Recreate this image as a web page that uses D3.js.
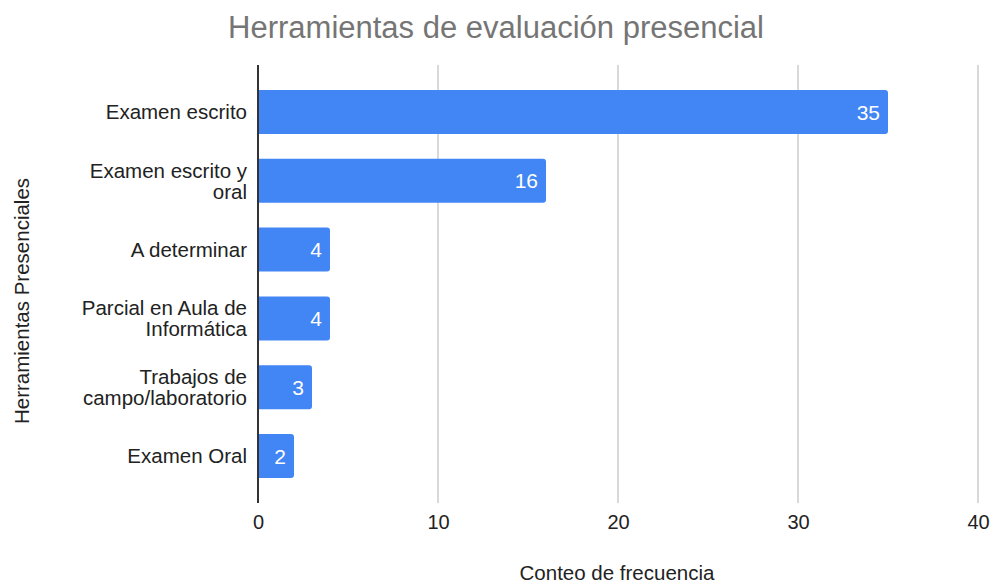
<!DOCTYPE html>
<html>
<head>
<meta charset="utf-8">
<script src="https://cdn.jsdelivr.net/npm/d3@7"></script>
<style>
  body { margin: 0; background: #fff; }
  svg { font-family: Arial, "Liberation Sans", sans-serif; }
</style>
</head>
<body>
<svg id="chart" width="992" height="582"></svg>
<script>
// data
const categories = [
    ["Examen escrito"],
    ["Examen escrito y", "oral"],
    ["A determinar"],
    ["Parcial en Aula de", "Informática"],
    ["Trabajos de", "campo/laboratorio"],
    ["Examen Oral"]
];
const counts = [35, 16, 4, 4, 3, 2];
const xTicks = [0, 10, 20, 30, 40];

const svg = d3.select('#chart');
const margin = { left: 258, right: 14, top: 65, bottom: 79 };
const width = 992 - margin.left - margin.right;
const height = 582 - margin.top - margin.bottom;

const keys = categories.map(d => d.join(' '));

const xScale = d3.scaleLinear().domain([0, 40]).range([0, width]);
const yScale = d3.scaleBand().domain(keys).range([12.6, height - 12.6]).paddingInner(0.36).paddingOuter(0.18);

const chart = svg.append('g').attr('transform', `translate(${margin.left},${margin.top})`);

// title
svg.append('text')
    .attr('x', 496).attr('y', 38)
    .attr('text-anchor', 'middle')
    .attr('font-size', 31)
    .attr('fill', '#757575')
    .text('Herramientas de evaluación presencial');

// gridlines
chart.selectAll('.grid')
    .data(xTicks.filter(d => d !== 0))
    .enter()
    .append('line')
    .attr('x1', d => xScale(d)).attr('x2', d => xScale(d))
    .attr('y1', 0).attr('y2', height)
    .attr('stroke', '#cccccc').attr('stroke-width', 1.5);

// x axis labels
const xAxis = d3.axisBottom(xScale).tickValues(xTicks).tickSize(0).tickPadding(12);
const xAxisG = chart.append('g').attr('transform', `translate(0,${height})`).call(xAxis);
xAxisG.select('.domain').remove();
xAxisG.selectAll('text').attr('font-size', 20).attr('fill', '#222').attr('font-family', 'Arial, "Liberation Sans", sans-serif');

// bars
chart.selectAll('.bar')
    .data(counts)
    .enter()
    .append('path')
    .attr('fill', '#4285f4')
    .attr('d', (d, i) => {
        const x0 = xScale(0), x1 = xScale(d);
        const y0 = yScale(keys[i]), h = yScale.bandwidth(), r = 3;
        return `M${x0},${y0}H${x1 - r}Q${x1},${y0} ${x1},${y0 + r}V${y0 + h - r}Q${x1},${y0 + h} ${x1 - r},${y0 + h}H${x0}Z`;
    });

// value labels
chart.selectAll('.val')
    .data(counts)
    .enter()
    .append('text')
    .attr('x', d => xScale(d) - 8)
    .attr('y', (d, i) => yScale(keys[i]) + yScale.bandwidth() / 2)
    .attr('dy', '0.36em')
    .attr('text-anchor', 'end')
    .attr('font-size', 21)
    .attr('fill', '#ffffff')
    .text(d => d);

// y axis line
chart.append('line')
    .attr('x1', 0).attr('x2', 0)
    .attr('y1', 0).attr('y2', height)
    .attr('stroke', '#333').attr('stroke-width', 2);

// category labels
categories.forEach((lines, i) => {
    const cy = yScale(keys[i]) + yScale.bandwidth() / 2;
    const t = chart.append('text')
        .attr('x', -11)
        .attr('y', cy - (lines.length - 1) * 10.5)
        .attr('text-anchor', 'end')
        .attr('font-size', 20.5)
        .attr('fill', '#222');
    lines.forEach((l, j) => {
        t.append('tspan').attr('x', -11).attr('dy', j === 0 ? '0.36em' : 21).text(l);
    });
});

// axis titles
svg.append('text')
    .attr('x', margin.left + width / 2 - 1).attr('y', 580)
    .attr('text-anchor', 'middle')
    .attr('font-size', 20.5)
    .attr('fill', '#222')
    .text('Conteo de frecuencia');

svg.append('text')
    .attr('transform', `translate(29,${margin.top + height / 2 + 17}) rotate(-90)`)
    .attr('text-anchor', 'middle')
    .attr('font-size', 20.5)
    .attr('fill', '#222')
    .text('Herramientas Presenciales');
</script>
</body>
</html>
